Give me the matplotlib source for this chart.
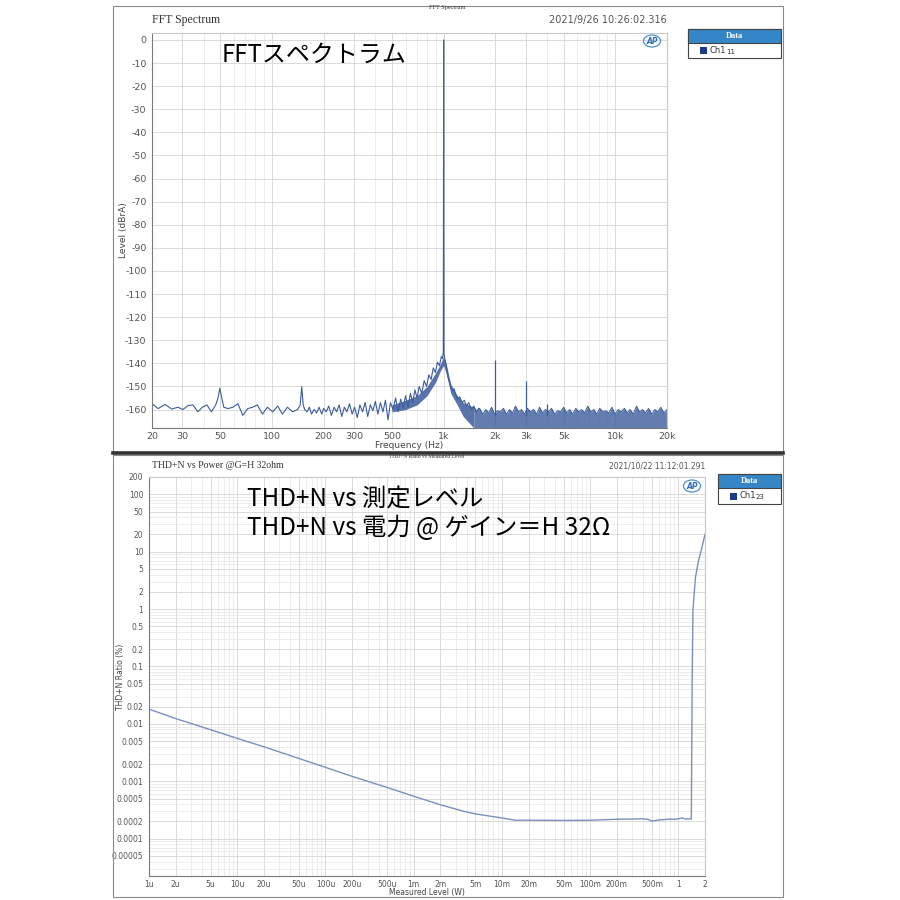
import matplotlib
matplotlib.use('Agg')
import matplotlib.pyplot as plt
from matplotlib.patches import Rectangle, Ellipse
from matplotlib.lines import Line2D
from matplotlib.ticker import FixedLocator, NullFormatter, LogLocator

plt.rcParams['axes.unicode_minus'] = False

# ---- FFT スペクトラム (上) ----
fft_freq = [20, 21.7, 23.8, 26.1, 28.3, 30.3, 32.4, 34.6, 37.0, 39.3, 41.8, 44.4, 47.0, 48.5,
            49.7, 51, 52.4, 55.4, 59.2, 63.3, 67.6, 72.2, 77.0, 82.2, 88, 94, 101, 108, 115,
            123, 132, 141, 146, 149, 152, 155, 160, 165, 170, 176, 182, 188, 195, 200, 207,
            214, 222, 230, 238, 246, 255, 264, 273, 283, 293, 303, 314, 325, 337, 349, 361,
            374, 387, 400, 414, 428, 443, 458, 474, 490, 507, 525, 543, 562, 581, 600, 620,
            640, 660, 680, 700, 720, 745, 770, 795, 820, 845, 870, 895, 920, 945, 970, 985,
            995, 1000, 1005, 1015, 1030, 1045, 1060, 1080, 1100, 1125, 1150, 1180, 1210,
            1240, 1280, 1320, 1360, 1400, 1450, 1500, 1550, 1600]
fft_level = [-157.5, -159.6, -157.8, -159.8, -159, -160, -158.3, -158, -161, -159, -158, -161,
             -158, -155, -150.8, -155, -159, -159.6, -159, -157.5, -162.5, -159.6, -159, -158,
             -162, -159, -161, -158.5, -162, -159, -161, -160, -158, -150.1, -158, -160, -161,
             -159, -162, -160, -161.5, -159, -162, -159.5, -161, -158.5, -162.5, -159, -161,
             -158, -163, -159, -161, -157.5, -162, -159, -163.5, -158, -161, -157, -163, -158,
             -160.5, -156.5, -162, -157, -161, -156, -164.5, -157, -160, -155, -161, -155.5,
             -159.5, -154, -159, -153, -157, -151.5, -155, -150, -153, -147.5, -150, -145,
             -147, -142, -144, -139.5, -141, -137, -138, -135.5, 0, -136, -138, -140, -143,
             -146, -148, -150.5, -152, -151, -154, -155.5, -154.5, -157, -156, -158.5, -157,
             -160, -158.5, -161, -159.5]

# 1kHz 周辺のノイズ帯域 (上下の包絡線)
band_freq = [500, 600, 700, 800, 900, 960, 1000, 1040, 1100, 1200, 1300, 1500]
band_hi = [-158, -156, -154, -150, -144, -140, -137, -141, -149, -154, -157, -159]
band_lo = [-161, -160, -158, -154, -148, -143, -141, -145, -153, -158, -163, -168]

# 高域ノイズフロアの上端
hf_freq = [1500, 1560, 1620, 1690, 1760, 1830, 1900, 1980, 2060, 2140, 2230, 2320, 2420,
           2520, 2620, 2730, 2840, 2960, 3080, 3200, 3340, 3480, 3620, 3770, 3920, 4080,
           4250, 4430, 4610, 4800, 5000, 5200, 5420, 5640, 5880, 6120, 6370, 6630, 6910,
           7190, 7490, 7800, 8120, 8460, 8810, 9170, 9550, 9950, 10400, 10800, 11300, 11700,
           12200, 12700, 13300, 13800, 14400, 15000, 15600, 16300, 17000, 17700, 18400,
           19200, 20000]
hf_top = [-159, -161, -159.5, -162, -160, -161.5, -159, -162, -160.5, -161, -159.5, -162,
          -160, -161.5, -158.5, -161, -160, -162, -159.5, -161, -160, -162, -159, -161.5,
          -160, -161, -159.5, -162, -160.5, -161, -159, -161.5, -160, -162, -159.5, -161,
          -160, -161.5, -158.5, -161, -160, -162, -159.5, -161, -160.5, -161.5, -159, -162,
          -160, -161, -159.5, -161.5, -160, -162, -158.5, -161, -160, -161.5, -159.5, -162,
          -160, -161, -159, -161.5, -160]
hf_floor = -168

harm_freq = [2000, 3000, 4000]
harm_level = [-138.5, -147.5, -157.5]

fft_xticks = [20, 30, 50, 100, 200, 300, 500, 1000, 2000, 3000, 5000, 10000, 20000]
fft_xlabels = ['20', '30', '50', '100', '200', '300', '500', '1k', '2k', '3k', '5k', '10k', '20k']
fft_yticks = list(range(0, -161, -10))

# ---- THD+N vs 電力 (下) ----
thd_power = [1e-6, 2e-6, 5e-6, 1e-5, 2e-5, 5e-5, 1e-4, 2e-4, 5e-4, 1e-3, 2e-3, 3.7e-3, 5e-3,
             1e-2, 1.4e-2, 2e-2, 5e-2, 0.1, 0.2, 0.4, 0.45, 0.5, 0.6, 0.7, 0.8, 0.9, 1.0,
             1.1, 1.2, 1.32, 1.40, 1.43, 1.46, 1.56, 1.69, 1.85, 2.0]
thd_ratio = [0.0181, 0.0124, 0.0079, 0.0056, 0.004, 0.0025, 0.00175, 0.00122, 0.00078,
             0.00055, 0.00039, 0.0003, 0.00027, 0.00023, 0.00021, 0.00021, 0.000208,
             0.00021, 0.000218, 0.000222, 0.000218, 0.000203, 0.000212, 0.000216, 0.00022,
             0.000218, 0.000222, 0.00023, 0.00022, 0.000222, 0.00022, 0.05, 0.95, 3.6, 7.0,
             12, 20]

thd_xticks = [1e-6, 2e-6, 5e-6, 1e-5, 2e-5, 5e-5, 1e-4, 2e-4, 5e-4, 1e-3, 2e-3, 5e-3, 1e-2,
              2e-2, 5e-2, 0.1, 0.2, 0.5, 1, 2]
thd_xlabels = ['1u', '2u', '5u', '10u', '20u', '50u', '100u', '200u', '500u', '1m', '2m',
               '5m', '10m', '20m', '50m', '100m', '200m', '500m', '1', '2']
thd_yticks = [200, 100, 50, 20, 10, 5, 2, 1, 0.5, 0.2, 0.1, 0.05, 0.02, 0.01, 0.005, 0.002,
              0.001, 0.0005, 0.0002, 0.0001, 0.00005]
thd_ylabels = ['200', '100', '50', '20', '10', '5', '2', '1', '0.5', '0.2', '0.1', '0.05',
               '0.02', '0.01', '0.005', '0.002', '0.001', '0.0005', '0.0002', '0.0001',
               '0.00005']

W = H = 900


def fx(px):
    return px / W


def fy(py):
    return 1 - py / H


cjk = ['Noto Sans CJK JP', 'DejaVu Sans']
serif = 'Liberation Serif'
tick_col = '#555555'
line_col = '#3c5c9c'

fig = plt.figure(figsize=(9, 9), dpi=100)

# パネル枠
for top, bot in [(6, 452), (455, 897)]:
    fig.patches.append(Rectangle((fx(113), fy(bot)), fx(783) - fx(113), fy(top) - fy(bot),
                                 transform=fig.transFigure, fill=False,
                                 edgecolor='#8a8a8a', lw=0.8))
fig.lines.append(Line2D([fx(113), fx(783)], [fy(452.5), fy(452.5)], transform=fig.transFigure,
                        color='#333333', lw=2.6))


def style_axes(ax, fsize):
    for s in ['top', 'right']:
        ax.spines[s].set_color('#c8c8c8')
    for s in ['left', 'bottom']:
        ax.spines[s].set_color('#7a7a7a')
    ax.tick_params(which='both', length=0, colors=tick_col, labelsize=fsize, pad=4)
    ax.tick_params(axis='x', pad=3)
    ax.grid(True, which='major', color='#d4d4d4', lw=0.6)
    ax.grid(True, which='minor', color='#e6e6e6', lw=0.5)
    ax.set_axisbelow(True)


def legend_box(x0, x1, y0, ym, y1, num):
    fig.patches.append(Rectangle((fx(x0), fy(y1)), fx(x1) - fx(x0), fy(y0) - fy(y1),
                                 transform=fig.transFigure, facecolor='white',
                                 edgecolor='#444444', lw=0.8))
    fig.patches.append(Rectangle((fx(x0), fy(ym)), fx(x1) - fx(x0), fy(y0) - fy(ym),
                                 transform=fig.transFigure, facecolor='#3586c6',
                                 edgecolor='#444444', lw=0.8))
    fig.text(fx((x0 + x1) / 2), fy((y0 + ym) / 2), 'Data', color='white', fontsize=6,
             family=serif, weight='bold', ha='center', va='center')
    cy = (ym + y1) / 2
    fig.patches.append(Rectangle((fx(x0 + 12), fy(cy + 3.5)), fx(7), fy(0) - fy(7),
                                 transform=fig.transFigure, facecolor='#1d3a8a',
                                 edgecolor='none'))
    fig.text(fx(x0 + 21), fy(cy), 'Ch1', color='#333333', fontsize=6, ha='left',
             va='center')
    fig.text(fx(x0 + 38), fy(cy + 1), num, color='#333333', fontsize=5, ha='left',
             va='center')


def ap_logo(px, py):
    fig.patches.append(Ellipse((fx(px), fy(py)), fx(17), fy(0) - fy(12),
                               transform=fig.transFigure, fill=False, edgecolor='#4a90d0',
                               lw=0.9))
    fig.text(fx(px), fy(py), 'AP', color='#2d6fb8', fontsize=5.5, style='italic',
             weight='bold', ha='center', va='center')


# ---------- 上: FFT ----------
ax1 = fig.add_axes([fx(152), fy(428), fx(667) - fx(152), fy(33) - fy(428)])
ax1.set_xscale('log')
ax1.fill_between(band_freq, band_lo, band_hi, color=line_col, alpha=0.85, lw=0)
ax1.fill_between(hf_freq, hf_floor, hf_top, color=line_col, alpha=0.8, lw=0)
ax1.plot(hf_freq, hf_top, color=line_col, lw=0.7)
ax1.plot(fft_freq, fft_level, color=line_col, lw=0.8)
ax1.vlines(harm_freq, -163, harm_level, color=line_col, lw=0.9)
ax1.set_xlim(20, 20000)
ax1.set_ylim(-168, 3)
ax1.xaxis.set_major_locator(FixedLocator(fft_xticks))
ax1.set_xticklabels(fft_xlabels)
ax1.xaxis.set_minor_locator(LogLocator(base=10, subs=range(2, 10), numticks=20))
ax1.xaxis.set_minor_formatter(NullFormatter())
ax1.set_yticks(fft_yticks)
style_axes(ax1, 6.8)
ax1.grid(False, which='minor', axis='y')
ax1.set_ylabel('Level (dBrA)', fontsize=6.5, color='#444444')
ax1.yaxis.set_label_coords(-0.047, 0.5)
ax1.set_xlabel('Frequency (Hz)', fontsize=6.5, color='#444444')
ax1.xaxis.set_label_coords(0.5, -0.034)

fig.text(fx(152), fy(20), 'FFT Spectrum', family=serif, fontsize=8.5, color='#333333',
         ha='left', va='center')
fig.text(fx(447), fy(8), 'FFT Spectrum', family=serif, fontsize=4.5, color='#333333',
         ha='center', va='center')
fig.text(fx(667), fy(20), '2021/9/26 10:26:02.316', fontsize=7, color='#555555',
         ha='right', va='center')
fig.text(fx(222), fy(55), 'FFTスペクトラム', family=cjk, fontsize=17.3, color='black',
         ha='left', va='center')
ap_logo(652, 41)
legend_box(688, 781, 29, 43, 58, '11')

# ---------- 下: THD+N ----------
ax2 = fig.add_axes([fx(149), fy(876), fx(705) - fx(149), fy(477) - fy(876)])
ax2.set_xscale('log')
ax2.set_yscale('log')
ax2.plot(thd_power, thd_ratio, color='#7b8fbf', lw=1.0)
ax2.set_xlim(1e-6, 2)
ax2.set_ylim(2.24e-5, 200)
ax2.xaxis.set_major_locator(FixedLocator(thd_xticks))
ax2.set_xticklabels(thd_xlabels)
ax2.xaxis.set_minor_locator(LogLocator(base=10, subs=range(2, 10), numticks=20))
ax2.xaxis.set_minor_formatter(NullFormatter())
ax2.yaxis.set_major_locator(FixedLocator(thd_yticks))
ax2.set_yticklabels(thd_ylabels)
ax2.yaxis.set_minor_locator(LogLocator(base=10, subs=range(2, 10), numticks=20))
ax2.yaxis.set_minor_formatter(NullFormatter())
style_axes(ax2, 5.5)
ax2.set_ylabel('THD+N Ratio (%)', fontsize=5.5, color='#444444')
ax2.yaxis.set_label_coords(-0.044, 0.5)
ax2.set_xlabel('Measured Level (W)', fontsize=5.5, color='#444444')
ax2.xaxis.set_label_coords(0.5, -0.029)

fig.text(fx(152), fy(466), 'THD+N vs Power @G=H 32ohm', family=serif, fontsize=7,
         color='#333333', ha='left', va='center')
fig.text(fx(427), fy(456.5), 'THD+N Ratio vs Measured Level', family=serif, fontsize=4,
         color='#333333', ha='center', va='center')
fig.text(fx(705), fy(466), '2021/10/22 11:12:01.291', fontsize=5.5, color='#555555',
         ha='right', va='center')
fig.text(fx(247), fy(500), 'THD+N vs 測定レベル', family=cjk, fontsize=17.5, color='black',
         ha='left', va='center')
fig.text(fx(247), fy(528), 'THD+N vs 電力 @ ゲイン＝H 32Ω', family=cjk, fontsize=17.5,
         color='black', ha='left', va='center')
ap_logo(692, 486)
legend_box(718, 781, 474, 488, 504, '23')

fig.savefig('out.png', dpi=100, facecolor='white')
